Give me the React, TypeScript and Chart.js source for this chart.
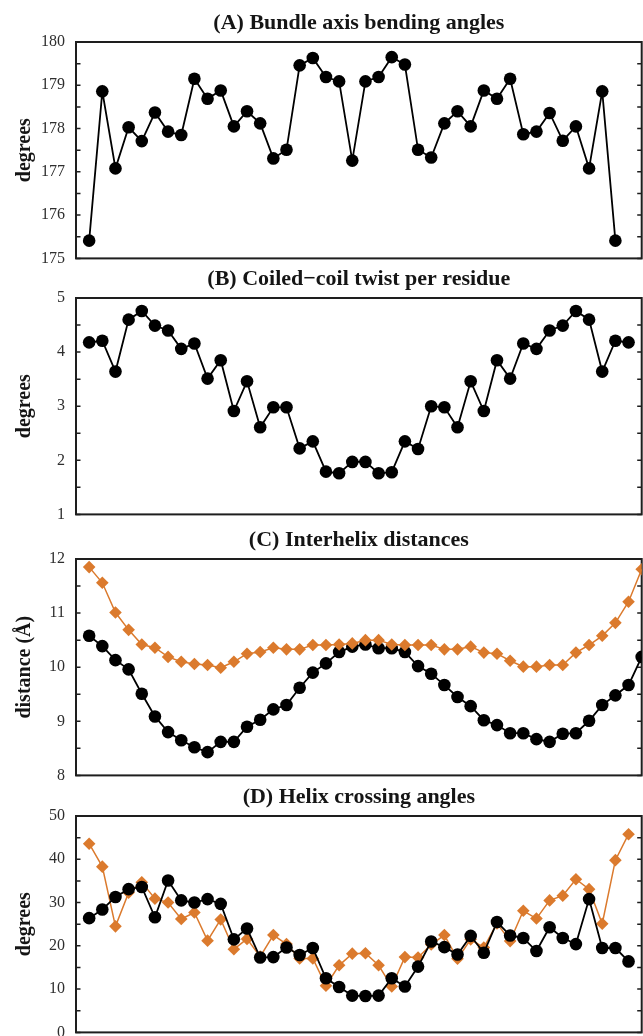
import React, { useEffect, useRef } from 'react';
import { Chart, registerables } from 'chart.js';

Chart.register(...registerables);

const SERIF = '"Liberation Serif", "Times New Roman", "DejaVu Serif", serif';
const BLACK = '#000000';
const ORANGE = '#db7a2d';

// (A) Bundle axis bending angles
const bendingAngles = [
  175.41, 178.86, 177.08, 178.03, 177.71, 178.37, 177.93, 177.85, 179.15, 178.69,
  178.88, 178.05, 178.4, 178.12, 177.31, 177.51, 179.46, 179.63, 179.19, 179.09,
  177.26, 179.09, 179.19, 179.65, 179.48, 177.51, 177.33, 178.12, 178.4, 178.05,
  178.88, 178.69, 179.15, 177.87, 177.93, 178.36, 177.72, 178.05, 177.08, 178.86,
  175.41,
];

// (B) Coiled-coil twist per residue
const twistPerResidue = [
  4.18, 4.21, 3.64, 4.6, 4.76, 4.49, 4.4, 4.06, 4.16, 3.51,
  3.85, 2.91, 3.46, 2.61, 2.98, 2.98, 2.22, 2.35, 1.79, 1.76,
  1.97, 1.97, 1.76, 1.78, 2.35, 2.21, 3.0, 2.98, 2.61, 3.46,
  2.91, 3.85, 3.51, 4.16, 4.06, 4.4, 4.49, 4.76, 4.6, 3.64,
  4.21, 4.18,
];

// (C) Interhelix distances
const distanceOrange = [
  11.85, 11.56, 11.01, 10.69, 10.42, 10.36, 10.19, 10.1, 10.06, 10.04,
  9.99, 10.1, 10.25, 10.28, 10.36, 10.33, 10.33, 10.41, 10.41, 10.42,
  10.44, 10.5, 10.5, 10.42, 10.41, 10.41, 10.41, 10.33, 10.33, 10.38,
  10.27, 10.25, 10.12, 10.01, 10.01, 10.04, 10.04, 10.27, 10.41, 10.58,
  10.82, 11.21, 11.81,
];
const distanceBlack = [
  10.58, 10.39, 10.13, 9.96, 9.51, 9.09, 8.8, 8.65, 8.52, 8.43,
  8.62, 8.62, 8.9, 9.03, 9.22, 9.3, 9.62, 9.9, 10.07, 10.28,
  10.38, 10.42, 10.35, 10.35, 10.28, 10.02, 9.88, 9.67, 9.45, 9.28,
  9.02, 8.93, 8.78, 8.78, 8.67, 8.62, 8.77, 8.78, 9.01, 9.3,
  9.48, 9.67, 10.19,
];

// (D) Helix crossing angles
const crossingBlack = [
  26.4, 28.4, 31.3, 33.1, 33.6, 26.6, 35.1, 30.5, 30.0, 30.8,
  29.7, 21.5, 24.0, 17.3, 17.4, 19.6, 17.9, 19.5, 12.5, 10.5,
  8.5, 8.4, 8.5, 12.5, 10.6, 15.2, 21.0, 19.7, 18.0, 22.3,
  18.4, 25.5, 22.4, 21.8, 18.8, 24.3, 21.8, 20.4, 30.8, 19.5,
  19.5, 16.4,
];
const crossingOrange = [
  43.6, 38.3, 24.5, 32.3, 34.7, 30.9, 30.0, 26.2, 27.7, 21.2,
  26.1, 19.2, 21.6, 17.5, 22.5, 20.4, 17.1, 17.1, 10.8, 15.5,
  18.2, 18.3, 15.5, 10.6, 17.4, 17.3, 20.3, 22.5, 17.0, 21.5,
  19.6, 25.2, 21.1, 28.1, 26.3, 30.5, 31.6, 35.4, 33.1, 25.1,
  39.8, 45.8,
];

const panelTitles = [
  '(A) Bundle axis bending angles',
  '(B) Coiled\u2212coil twist per residue',
  '(C) Interhelix distances',
  '(D) Helix crossing angles',
];
const yAxisTitles = ['degrees', 'degrees', 'distance (\u00C5)', 'degrees'];
const yMins = [175, 1, 8, 0];
const yMaxs = [180, 5, 12, 50];
const yMinorSteps = [0.5, 0.5, 0.5, 5];
const yMajorSteps = [1, 1, 1, 10];
const xMin = -1;
const xMax = 42;

type Series = { values: number[]; color: string; style: 'circle' | 'rectRot'; lineWidth: number };

const panelSeries: Series[][] = [
  [{ values: bendingAngles, color: BLACK, style: 'circle', lineWidth: 1.8 }],
  [{ values: twistPerResidue, color: BLACK, style: 'circle', lineWidth: 1.8 }],
  [
    { values: distanceOrange, color: ORANGE, style: 'rectRot', lineWidth: 1.5 },
    { values: distanceBlack, color: BLACK, style: 'circle', lineWidth: 1.8 },
  ],
  [
    { values: crossingBlack, color: BLACK, style: 'circle', lineWidth: 1.8 },
    { values: crossingOrange, color: ORANGE, style: 'rectRot', lineWidth: 1.5 },
  ],
];

const panelTops = [0, 256, 517, 774];
const VIEW_W = 643;
const CANVAS_W = 648;
const CANVAS_H = 279;

const frameTicksPlugin = {
  id: 'frameTicks',
  beforeDatasetsDraw(chart: any) {
    const { ctx, chartArea } = chart;
    const { left, right, top, bottom } = chartArea;
    const y = chart.scales.y;
    ctx.save();
    ctx.strokeStyle = '#1e1e1e';
    ctx.lineWidth = 1.5;
    y.ticks.forEach((t: any) => {
      const py = y.getPixelForValue(t.value);
      ctx.beginPath();
      ctx.moveTo(left, py);
      ctx.lineTo(left + 4.5, py);
      ctx.moveTo(right, py);
      ctx.lineTo(right - 4.5, py);
      ctx.stroke();
    });
    ctx.lineWidth = 2;
    ctx.strokeRect(left, top, right - left, bottom - top);
    ctx.restore();
  },
};

function Panel({ index }: { index: number }) {
  const ref = useRef<HTMLCanvasElement | null>(null);
  useEffect(() => {
    if (!ref.current) return;
    const major = yMajorSteps[index];
    const datasets = panelSeries[index].map((s) => ({
      data: s.values.map((v, i) => ({ x: i, y: v })),
      borderColor: s.color,
      backgroundColor: s.color,
      borderWidth: s.lineWidth,
      pointStyle: s.style,
      pointRadius: 6.3,
      pointBorderWidth: 0,
      pointBackgroundColor: s.color,
      pointHoverRadius: 6.3,
      tension: 0,
      fill: false,
    }));
    const chart = new Chart(ref.current, {
      type: 'line',
      data: { datasets },
      plugins: [frameTicksPlugin],
      options: {
        responsive: false,
        maintainAspectRatio: false,
        animation: false,
        devicePixelRatio: 1,
        layout: { padding: { top: 0, left: 0, right: 1, bottom: 0 } },
        plugins: {
          legend: { display: false },
          tooltip: { enabled: false },
          title: {
            display: true,
            text: panelTitles[index],
            fullSize: false,
            color: '#151515',
            font: { family: SERIF, size: 22, weight: 'bold', lineHeight: 1.2 },
            padding: { top: 9.8, bottom: 5.8 },
          },
        },
        scales: {
          x: { type: 'linear', min: xMin, max: xMax, display: false },
          y: {
            type: 'linear',
            min: yMins[index],
            max: yMaxs[index],
            afterFit: (s: any) => {
              s.width = 76;
            },
            grid: { display: false, drawTicks: false },
            border: { display: false },
            ticks: {
              stepSize: yMinorSteps[index],
              autoSkip: false,
              padding: 11,
              color: '#2e2e2e',
              font: { family: SERIF, size: 16 },
              callback: (v: any) => {
                const q = Number(v) / major;
                return Math.abs(q - Math.round(q)) < 1e-6 ? String(Math.round(Number(v))) : '';
              },
            },
            title: {
              display: true,
              text: yAxisTitles[index],
              color: '#151515',
              font: { family: SERIF, size: 20, weight: 'bold', lineHeight: 1.2 },
              padding: { top: 13, bottom: 0 },
            },
          },
        },
      } as any,
    });
    return () => chart.destroy();
  }, [index]);
  return (
    <canvas
      ref={ref}
      width={CANVAS_W}
      height={CANVAS_H}
      style={{ position: 'absolute', left: 0, top: panelTops[index], width: CANVAS_W, height: CANVAS_H, display: 'block' }}
    />
  );
}

export default function App() {
  return (
    <div
      style={{
        position: 'absolute',
        left: 0,
        top: 0,
        width: VIEW_W,
        height: 1036,
        overflow: 'hidden',
        background: '#ffffff',
      }}
    >
      {[0, 1, 2, 3].map((i) => (
        <Panel key={i} index={i} />
      ))}
    </div>
  );
}
